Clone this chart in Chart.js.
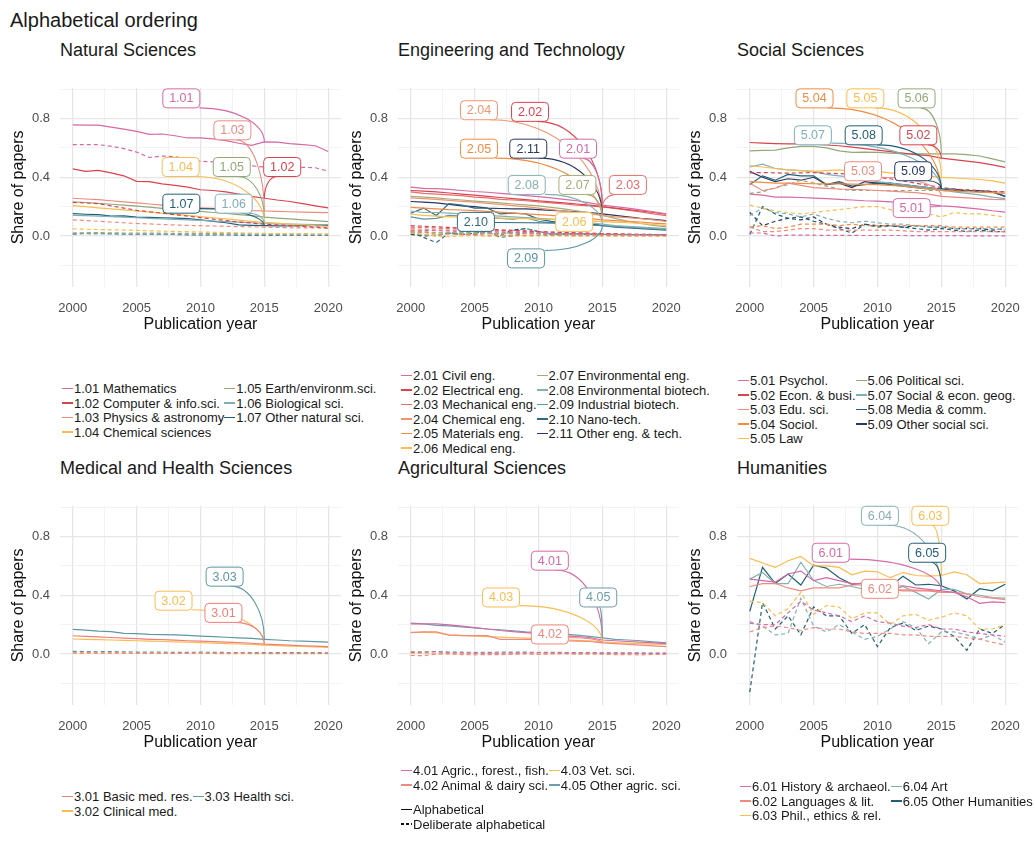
<!DOCTYPE html>
<html>
<head>
<meta charset="utf-8">
<script src="https://cdn.jsdelivr.net/npm/chart.js@4"></script>
<style>
  body { margin: 0; width: 1034px; height: 848px; overflow: hidden; background: #fff;
         font-family: "Liberation Sans", Arial, Helvetica, sans-serif; color: #1a1a1a; }
  .main-title { position: absolute; left: 10px; top: 8px; font-size: 20px; line-height: 24px; }
  .panel-title { position: absolute; font-size: 18px; line-height: 20px; }
  canvas { position: absolute; }
  .legend { position: absolute; display: grid; grid-auto-flow: column; font-size: 13px; line-height: 14.5px; white-space: nowrap; }
  .legend span.key { display: inline-block; width: 11px; height: 1.6px; vertical-align: middle; margin-right: 1px; position: relative; top: -1px; }
  .legend span.key.dash { background: repeating-linear-gradient(90deg, #111 0 3px, transparent 3px 5px) !important; }
</style>
</head>
<body>
<div class="main-title">Alphabetical ordering</div>
<div id="root"></div>
<script>
// ---- data ----
const years = [2000, 2001, 2002, 2003, 2004, 2005, 2006, 2007, 2008, 2009, 2010,
               2011, 2012, 2013, 2014, 2015, 2016, 2017, 2018, 2019, 2020];
const xTicks = [2000, 2002.5, 2005, 2007.5, 2010, 2012.5, 2015, 2017.5, 2020];
const xLabelled = [2000, 2005, 2010, 2015, 2020];
const yTicks = [-0.2, 0, 0.2, 0.4, 0.6, 0.8, 1.0];
const yLabelled = [0, 0.4, 0.8];

// Natural Sciences
const natCodes = ['1.01', '1.02', '1.03', '1.04', '1.05', '1.06', '1.07'];
const natNames = ['Mathematics', 'Computer & info.sci.', 'Physics & astronomy', 'Chemical sciences',
                  'Earth/environm.sci.', 'Biological sci.', 'Other natural sci.'];
const natSolid = [
  [0.757,0.755,0.755,0.742,0.728,0.713,0.692,0.695,0.683,0.668,0.668,0.662,0.650,0.632,0.617,0.641,0.640,0.630,0.622,0.615,0.576],
  [0.457,0.440,0.447,0.430,0.410,0.372,0.370,0.355,0.345,0.333,0.315,0.310,0.300,0.285,0.270,0.257,0.245,0.235,0.220,0.205,0.191],
  [0.257,0.252,0.247,0.240,0.232,0.225,0.218,0.210,0.203,0.197,0.192,0.188,0.183,0.178,0.173,0.170,0.167,0.165,0.163,0.161,0.159],
  [0.207,0.200,0.192,0.185,0.178,0.170,0.163,0.155,0.148,0.140,0.132,0.124,0.116,0.108,0.100,0.093,0.087,0.081,0.076,0.070,0.066],
  [0.232,0.228,0.222,0.216,0.210,0.203,0.196,0.188,0.181,0.174,0.167,0.160,0.153,0.146,0.139,0.128,0.122,0.116,0.110,0.104,0.098],
  [0.140,0.138,0.135,0.132,0.128,0.124,0.120,0.117,0.113,0.110,0.106,0.102,0.098,0.094,0.090,0.085,0.082,0.080,0.079,0.078,0.078],
  [0.152,0.148,0.145,0.135,0.137,0.128,0.126,0.124,0.122,0.118,0.110,0.100,0.090,0.075,0.072,0.070,0.069,0.068,0.070,0.071,0.072]
];
const natDashed = [
  [0.622,0.622,0.622,0.612,0.595,0.572,0.535,0.545,0.540,0.525,0.510,0.505,0.500,0.490,0.478,0.470,0.470,0.470,0.468,0.465,0.441],
  [0.228,0.225,0.220,0.205,0.190,0.175,0.165,0.155,0.145,0.135,0.125,0.115,0.105,0.095,0.088,0.080,0.075,0.070,0.065,0.060,0.055],
  [0.110,0.105,0.100,0.095,0.090,0.085,0.082,0.078,0.075,0.072,0.070,0.068,0.066,0.064,0.062,0.060,0.058,0.056,0.055,0.055,0.052],
  [0.048,0.046,0.044,0.042,0.040,0.038,0.035,0.033,0.031,0.029,0.027,0.025,0.023,0.021,0.019,0.017,0.016,0.015,0.014,0.013,0.012],
  [0.022,0.022,0.021,0.021,0.020,0.020,0.019,0.019,0.018,0.018,0.017,0.017,0.016,0.016,0.015,0.015,0.014,0.014,0.014,0.013,0.013],
  [0.015,0.015,0.014,0.014,0.013,0.013,0.012,0.012,0.012,0.011,0.011,0.011,0.010,0.010,0.010,0.010,0.010,0.009,0.009,0.009,0.009],
  [0.012,0.018,0.020,0.015,0.012,0.010,0.012,0.010,0.010,0.008,0.008,0.007,0.007,0.006,0.006,0.006,0.006,0.005,0.005,0.005,0.005]
];
const natLabelPos = [['1.01', 2008.5, 0.938], ['1.03', 2012.5, 0.72], ['1.02', 2016.4, 0.47], ['1.04', 2008.45, 0.47],
                     ['1.05', 2012.45, 0.47], ['1.07', 2008.5, 0.22], ['1.06', 2012.6, 0.22]];

// Engineering and Technology
const engCodes = ['2.01', '2.02', '2.03', '2.04', '2.05', '2.06', '2.07', '2.08', '2.09', '2.10', '2.11'];
const engNames = ['Civil eng.', 'Electrical eng.', 'Mechanical eng.', 'Chemical eng.', 'Materials eng.', 'Medical eng.',
                  'Environmental eng.', 'Environmental biotech.', 'Industrial biotech.', 'Nano-tech.', 'Other eng. & tech.'];
const engSolid = [
  [0.333,0.325,0.322,0.318,0.310,0.303,0.298,0.290,0.283,0.275,0.268,0.260,0.250,0.240,0.225,0.210,0.200,0.190,0.178,0.165,0.150],
  [0.310,0.305,0.300,0.293,0.285,0.278,0.270,0.262,0.255,0.248,0.240,0.232,0.225,0.218,0.210,0.200,0.190,0.180,0.170,0.160,0.148],
  [0.300,0.290,0.285,0.280,0.275,0.265,0.260,0.250,0.245,0.240,0.232,0.225,0.218,0.210,0.205,0.198,0.188,0.176,0.164,0.150,0.138],
  [0.260,0.255,0.250,0.243,0.236,0.230,0.222,0.215,0.207,0.200,0.190,0.180,0.170,0.160,0.150,0.140,0.130,0.125,0.118,0.110,0.100],
  [0.195,0.190,0.185,0.180,0.177,0.172,0.168,0.162,0.156,0.150,0.145,0.140,0.133,0.125,0.118,0.110,0.105,0.100,0.095,0.088,0.082],
  [0.148,0.140,0.135,0.130,0.130,0.128,0.125,0.122,0.120,0.118,0.115,0.112,0.110,0.107,0.103,0.098,0.094,0.090,0.085,0.078,0.070],
  [0.270,0.265,0.260,0.252,0.245,0.238,0.232,0.225,0.218,0.212,0.205,0.195,0.185,0.172,0.158,0.140,0.120,0.100,0.085,0.072,0.062],
  [0.170,0.160,0.160,0.155,0.150,0.145,0.140,0.135,0.130,0.125,0.120,0.115,0.110,0.100,0.090,0.080,0.070,0.065,0.060,0.055,0.050],
  [0.130,0.115,0.120,0.140,0.135,0.130,0.130,0.120,0.115,0.125,0.100,0.090,0.090,0.085,0.080,0.070,0.065,0.060,0.055,0.050,0.045],
  [0.155,0.190,0.140,0.220,0.210,0.190,0.190,0.150,0.155,0.150,0.115,0.100,0.090,0.080,0.075,0.070,0.060,0.055,0.050,0.045,0.040],
  [0.235,0.230,0.225,0.215,0.205,0.200,0.190,0.187,0.185,0.185,0.180,0.175,0.170,0.165,0.160,0.150,0.140,0.130,0.120,0.113,0.105]
];
const engDashed = [
  [0.040,0.038,0.036,0.034,0.032,0.030,0.028,0.026,0.024,0.022,0.020,0.018,0.016,0.014,0.013,0.012,0.011,0.010,0.009,0.008,0.007],
  [0.070,0.066,0.062,0.058,0.054,0.050,0.046,0.042,0.038,0.034,0.030,0.027,0.024,0.021,0.018,0.016,0.014,0.012,0.011,0.010,0.009],
  [0.060,0.057,0.054,0.050,0.047,0.044,0.040,0.037,0.034,0.031,0.028,0.025,0.022,0.020,0.018,0.016,0.014,0.012,0.011,0.010,0.009],
  [0.050,0.045,0.042,0.040,0.037,0.034,0.031,0.028,0.025,0.023,0.021,0.019,0.017,0.015,0.013,0.012,0.011,0.010,0.009,0.008,0.007],
  [0.030,0.026,0.010,0.012,0.010,0.008,0.006,0.005,0.004,0.004,0.003,0.003,0.003,0.002,0.002,0.002,0.002,0.001,0.001,0.001,0.001],
  [0.020,0.010,0.000,-0.005,0.000,0.002,-0.003,0.000,0.001,-0.002,0.000,0.001,0.000,-0.001,0.000,0.000,-0.001,0.000,0.000,0.000,0.000],
  [0.025,0.024,0.022,0.021,0.020,0.019,0.018,0.017,0.016,0.015,0.014,0.013,0.012,0.011,0.010,0.010,0.009,0.009,0.008,0.008,0.007],
  [0.035,0.030,0.020,0.025,0.022,0.020,0.018,0.015,0.016,0.020,0.018,0.015,0.013,0.012,0.011,0.010,0.010,0.009,0.008,0.008,0.007],
  [0.020,0.010,0.000,0.020,0.030,0.020,0.030,0.000,0.035,0.050,0.030,0.015,0.012,0.015,0.012,0.010,0.010,0.009,0.008,0.008,0.007],
  [0.030,-0.010,-0.045,0.020,0.010,0.020,0.030,-0.010,0.000,0.020,0.015,0.010,0.012,0.010,0.010,0.010,0.008,0.008,0.007,0.007,0.006],
  [0.010,0.000,0.005,0.020,0.012,0.010,0.020,0.010,0.040,0.050,0.030,0.012,0.015,0.014,0.012,0.012,0.010,0.010,0.009,0.009,0.008]
];
const engLabelPos = [['2.04', 2005.34, 0.857], ['2.02', 2009.34, 0.846], ['2.05', 2005.34, 0.595], ['2.11', 2009.2, 0.595],
                     ['2.01', 2013.1, 0.595], ['2.08', 2009.08, 0.348], ['2.07', 2013.05, 0.348], ['2.03', 2017.0, 0.348],
                     ['2.10', 2005.1, 0.096], ['2.06', 2012.8, 0.096], ['2.09', 2009.03, -0.153]];

// Social Sciences
const socCodes = ['5.01', '5.02', '5.03', '5.04', '5.05', '5.06', '5.07', '5.08', '5.09'];
const socNames = ['Psychol.', 'Econ. & busi.', 'Edu. sci.', 'Sociol.', 'Law', 'Political sci.',
                  'Social & econ. geog.', 'Media & comm.', 'Other social sci.'];
const socSolid = [
  [0.285,0.278,0.265,0.265,0.262,0.258,0.255,0.250,0.245,0.240,0.237,0.232,0.228,0.222,0.215,0.205,0.200,0.192,0.183,0.172,0.163],
  [0.637,0.633,0.630,0.628,0.628,0.625,0.620,0.615,0.605,0.595,0.585,0.575,0.565,0.555,0.548,0.530,0.520,0.510,0.500,0.485,0.467],
  [0.360,0.310,0.325,0.360,0.345,0.330,0.325,0.320,0.318,0.315,0.310,0.305,0.300,0.295,0.285,0.270,0.265,0.260,0.255,0.250,0.248],
  [0.370,0.365,0.360,0.360,0.358,0.356,0.355,0.355,0.353,0.352,0.350,0.345,0.340,0.330,0.320,0.310,0.305,0.300,0.298,0.295,0.290],
  [0.480,0.470,0.460,0.450,0.445,0.440,0.445,0.450,0.440,0.435,0.440,0.430,0.425,0.420,0.410,0.400,0.395,0.390,0.385,0.375,0.360],
  [0.580,0.583,0.585,0.600,0.610,0.610,0.600,0.580,0.570,0.572,0.570,0.565,0.560,0.560,0.560,0.560,0.560,0.555,0.545,0.525,0.505],
  [0.470,0.490,0.460,0.450,0.445,0.440,0.420,0.410,0.400,0.385,0.370,0.360,0.350,0.340,0.330,0.315,0.300,0.290,0.280,0.265,0.255],
  [0.350,0.410,0.380,0.420,0.410,0.410,0.350,0.370,0.340,0.350,0.360,0.350,0.340,0.330,0.320,0.320,0.310,0.310,0.300,0.300,0.270],
  [0.440,0.400,0.370,0.390,0.380,0.400,0.350,0.360,0.330,0.370,0.360,0.360,0.350,0.340,0.330,0.320,0.320,0.310,0.310,0.300,0.270]
];
const socDashed = [
  [0.020,0.020,0.000,0.005,0.005,0.005,0.004,0.004,0.004,0.003,0.003,0.003,0.003,0.002,0.002,0.002,0.002,0.001,0.001,0.001,0.000],
  [0.430,0.432,0.430,0.428,0.430,0.432,0.428,0.425,0.420,0.410,0.400,0.390,0.375,0.360,0.345,0.330,0.320,0.315,0.310,0.305,0.300],
  [0.060,0.030,0.030,0.040,0.050,0.050,0.040,0.040,0.040,0.040,0.040,0.040,0.035,0.030,0.030,0.030,0.030,0.030,0.030,0.030,0.030],
  [0.060,0.070,0.050,0.060,0.080,0.080,0.080,0.070,0.080,0.070,0.070,0.070,0.070,0.070,0.070,0.070,0.060,0.060,0.060,0.060,0.060],
  [0.210,0.190,0.170,0.160,0.150,0.160,0.170,0.180,0.190,0.200,0.200,0.180,0.150,0.160,0.150,0.130,0.160,0.150,0.150,0.140,0.130],
  [0.290,0.300,0.330,0.350,0.380,0.360,0.340,0.320,0.310,0.310,0.310,0.310,0.310,0.310,0.310,0.310,0.305,0.305,0.300,0.300,0.300],
  [0.140,0.190,0.160,0.150,0.130,0.150,0.120,0.100,0.090,0.100,0.090,0.080,0.080,0.070,0.060,0.060,0.050,0.050,0.050,0.050,0.040],
  [0.010,0.200,0.150,0.120,0.130,0.100,0.080,0.050,0.020,0.080,0.060,0.070,0.060,0.050,0.040,0.050,0.040,0.030,0.040,0.030,0.030],
  [0.160,0.070,0.100,0.120,0.110,0.130,0.080,0.060,0.050,0.080,0.070,0.070,0.060,0.070,0.060,0.060,0.050,0.050,0.050,0.040,0.050]
];
const socLabelPos = [['5.04', 2005.07, 0.938], ['5.05', 2009.05, 0.938], ['5.06', 2013.06, 0.938], ['5.07', 2004.94, 0.686],
                     ['5.08', 2008.92, 0.686], ['5.02', 2013.2, 0.686], ['5.03', 2008.87, 0.441], ['5.09', 2012.8, 0.441],
                     ['5.01', 2012.68, 0.19]];

// Medical and Health Sciences
const medCodes = ['3.01', '3.02', '3.03'];
const medNames = ['Basic med. res.', 'Clinical med.', 'Health sci.'];
const medSolid = [
  [0.124,0.120,0.116,0.112,0.108,0.104,0.100,0.097,0.094,0.090,0.087,0.084,0.080,0.077,0.073,0.067,0.063,0.060,0.056,0.053,0.050],
  [0.102,0.100,0.097,0.095,0.092,0.090,0.087,0.085,0.082,0.080,0.077,0.074,0.071,0.068,0.065,0.060,0.057,0.054,0.051,0.048,0.045],
  [0.168,0.163,0.155,0.152,0.140,0.138,0.134,0.132,0.130,0.126,0.122,0.118,0.114,0.110,0.106,0.100,0.095,0.090,0.087,0.084,0.080]
];
const medDashed = [
  [0.008,0.008,0.007,0.007,0.007,0.006,0.006,0.006,0.006,0.005,0.005,0.005,0.005,0.005,0.005,0.004,0.004,0.004,0.004,0.004,0.004],
  [0.004,0.004,0.003,0.003,0.003,0.003,0.003,0.003,0.003,0.003,0.003,0.003,0.002,0.002,0.002,0.002,0.002,0.002,0.002,0.002,0.002],
  [0.018,0.016,0.015,0.016,0.014,0.013,0.012,0.012,0.011,0.011,0.012,0.011,0.010,0.010,0.010,0.010,0.009,0.009,0.009,0.009,0.008]
];
const medLabelPos = [['3.03', 2011.89, 0.527], ['3.02', 2007.89, 0.363], ['3.01', 2011.8, 0.28]];

// Agricultural Sciences
const agrCodes = ['4.01', '4.02', '4.03', '4.05'];
const agrNames = ['Agric., forest., fish.', 'Animal & dairy sci.', 'Vet. sci.', 'Other agric. sci.'];
const agrSolid = [
  [0.205,0.205,0.205,0.198,0.190,0.180,0.170,0.160,0.152,0.145,0.138,0.130,0.125,0.118,0.112,0.095,0.090,0.085,0.080,0.075,0.070],
  [0.145,0.150,0.150,0.128,0.125,0.125,0.125,0.100,0.100,0.100,0.100,0.095,0.090,0.088,0.085,0.075,0.070,0.065,0.060,0.055,0.050],
  [0.148,0.147,0.145,0.130,0.127,0.122,0.118,0.115,0.112,0.108,0.104,0.100,0.096,0.093,0.090,0.082,0.078,0.074,0.070,0.067,0.065],
  [0.210,0.205,0.195,0.192,0.185,0.178,0.170,0.165,0.158,0.150,0.145,0.140,0.135,0.128,0.120,0.110,0.100,0.095,0.090,0.083,0.075]
];
const agrDashed = [
  [0.010,0.012,0.015,0.010,0.008,0.006,0.005,0.006,0.007,0.008,0.010,0.009,0.008,0.008,0.007,0.006,0.005,0.005,0.004,0.004,0.004],
  [-0.010,-0.012,0.000,0.002,-0.004,-0.006,-0.004,-0.005,-0.002,0.000,-0.003,0.000,0.002,-0.002,0.000,-0.001,-0.004,-0.005,-0.006,-0.003,-0.002],
  [0.005,0.003,0.000,-0.002,0.000,0.002,0.000,-0.002,0.000,0.002,0.000,0.003,0.002,0.000,0.001,0.000,-0.001,0.000,0.001,0.000,0.000],
  [0.015,0.014,0.016,0.013,0.012,0.010,0.011,0.012,0.013,0.012,0.010,0.011,0.010,0.009,0.009,0.008,0.008,0.007,0.007,0.006,0.006]
];
const agrLabelPos = [['4.01', 2010.89, 0.636], ['4.03', 2007.07, 0.385], ['4.05', 2014.68, 0.385], ['4.02', 2010.89, 0.133]];

// Humanities
const humCodes = ['6.01', '6.02', '6.03', '6.04', '6.05'];
const humNames = ['History & archaeol.', 'Languages & lit.', 'Phil., ethics & rel.', 'Art', 'Other Humanities'];
const humSolid = [
  [0.510,0.500,0.490,0.545,0.565,0.500,0.520,0.500,0.480,0.480,0.480,0.460,0.465,0.450,0.440,0.430,0.420,0.390,0.345,0.355,0.350],
  [0.460,0.480,0.480,0.450,0.430,0.450,0.450,0.450,0.470,0.470,0.460,0.440,0.430,0.430,0.430,0.420,0.420,0.410,0.390,0.380,0.370],
  [0.652,0.620,0.590,0.635,0.665,0.600,0.600,0.590,0.540,0.565,0.560,0.520,0.555,0.535,0.530,0.535,0.560,0.540,0.480,0.485,0.490],
  [0.510,0.555,0.480,0.480,0.625,0.500,0.460,0.475,0.460,0.440,0.430,0.430,0.460,0.420,0.375,0.440,0.440,0.410,0.400,0.385,0.380],
  [0.290,0.590,0.480,0.545,0.470,0.605,0.585,0.520,0.475,0.485,0.460,0.460,0.530,0.470,0.475,0.465,0.430,0.375,0.445,0.430,0.475]
];
const humDashed = [
  [0.210,0.200,0.200,0.280,0.360,0.300,0.280,0.260,0.220,0.260,0.220,0.210,0.190,0.180,0.200,0.170,0.170,0.150,0.140,0.130,0.120],
  [0.150,0.180,0.190,0.180,0.160,0.180,0.170,0.170,0.150,0.140,0.140,0.140,0.130,0.130,0.120,0.120,0.120,0.110,0.100,0.080,0.060],
  [0.360,0.350,0.260,0.310,0.420,0.270,0.330,0.320,0.240,0.280,0.280,0.200,0.260,0.270,0.230,0.250,0.280,0.260,0.170,0.170,0.200],
  [0.220,0.190,0.130,0.140,0.380,0.190,0.150,0.200,0.150,0.100,0.120,0.170,0.220,0.180,0.070,0.150,0.150,0.130,0.100,0.130,0.080],
  [-0.260,0.350,0.170,0.260,0.130,0.320,0.260,0.260,0.140,0.200,0.050,0.180,0.210,0.160,0.190,0.170,0.120,0.025,0.170,0.140,0.200]
];
const humLabelPos = [['6.04', 2010.19, 0.942], ['6.03', 2014.14, 0.942], ['6.01', 2006.34, 0.69], ['6.05', 2013.89, 0.69],
                     ['6.02', 2010.19, 0.444]];

const anchorYear = 2015;

// ---- styles ----
const C = {
  pink: '#d46aa6', red: '#d9434f', salmon: '#ef8a80', salmonOr: '#f1946f', orange: '#f28c42',
  yellow: '#f8bd4f', olive: '#93a878', greyTeal: '#86b0b0', lightTeal: '#7eafba', teal: '#5a96a6',
  darkTeal: '#1f5f75', navy: '#2b3762'
};
const natColors = [C.pink, C.red, C.salmon, C.yellow, C.olive, C.lightTeal, C.darkTeal];
const engColors = [C.pink, C.red, '#e86c6c', C.salmonOr, C.orange, C.yellow, '#a2ae78', C.greyTeal, C.teal, '#2f6a82', C.navy];
const socColors = [C.pink, C.red, C.salmon, C.orange, C.yellow, C.olive, C.lightTeal, C.darkTeal, C.navy];
const medColors = ['#ef7f7c', C.yellow, '#5f97a4'];
const agrColors = [C.pink, C.salmon, C.yellow, '#6f9eab'];
const humColors = [C.pink, C.salmon, C.yellow, C.greyTeal, C.darkTeal];

const canvasLeft = [5, 343, 682];
const canvasTop = [70, 488];
const FONT = '"Liberation Sans", Arial, Helvetica, sans-serif';

const panels = [
  { title: 'Natural Sciences', codes: natCodes, names: natNames, solid: natSolid, dashed: natDashed, colors: natColors,
    labels: natLabelPos, col: 0, row: 0, legend: { left: 62, top: 382, rows: 4 } },
  { title: 'Engineering and Technology', codes: engCodes, names: engNames, solid: engSolid, dashed: engDashed, colors: engColors,
    labels: engLabelPos, col: 1, row: 0, legend: { left: 401, top: 369, rows: 6 } },
  { title: 'Social Sciences', codes: socCodes, names: socNames, solid: socSolid, dashed: socDashed, colors: socColors,
    labels: socLabelPos, col: 2, row: 0, legend: { left: 738, top: 374, rows: 5 } },
  { title: 'Medical and Health Sciences', codes: medCodes, names: medNames, solid: medSolid, dashed: medDashed, colors: medColors,
    labels: medLabelPos, col: 0, row: 1, legend: { left: 62, top: 790, rows: 2 } },
  { title: 'Agricultural Sciences', codes: agrCodes, names: agrNames, solid: agrSolid, dashed: agrDashed, colors: agrColors,
    labels: agrLabelPos, col: 1, row: 1, legend: { left: 401, top: 764, rows: 2 }, linetypes: { left: 401, top: 803 } },
  { title: 'Humanities', codes: humCodes, names: humNames, solid: humSolid, dashed: humDashed, colors: humColors,
    labels: humLabelPos, col: 2, row: 1, legend: { left: 740, top: 780, rows: 3 } }
];

const near = (v, list) => list.some(l => Math.abs(v - l) < 1e-6);

/**
 * Boxed labels with curved leader lines, like ggrepel
 */
function makeLabelPlugin(panel) {
  return {
    id: 'repelLabels',
    afterDatasetsDraw(chart) {
      const { ctx, scales: { x, y } } = chart;
      const w = 37, h = 19;
      const k = years.indexOf(anchorYear);
      ctx.save();
      ctx.font = '12.5px ' + FONT;
      ctx.textAlign = 'center';
      ctx.textBaseline = 'middle';
      panel.labels.forEach(([code, lx, ly]) => {
        const i = panel.codes.indexOf(code);
        const color = panel.colors[i];
        const cx = x.getPixelForValue(lx), cy = y.getPixelForValue(ly);
        const ex = x.getPixelForValue(anchorYear), ey = y.getPixelForValue(panel.solid[i][k]);
        const dx = ex - cx, dy = ey - cy;
        const tx = dx !== 0 ? (w / 2) / Math.abs(dx) : Infinity;
        const ty = dy !== 0 ? (h / 2) / Math.abs(dy) : Infinity;
        const t = Math.min(tx, ty);
        if (t < 1) {
          const sx = cx + dx * t, sy = cy + dy * t;
          ctx.beginPath();
          ctx.moveTo(sx, sy);
          ctx.bezierCurveTo(sx + (ex - sx) * 0.6, sy, ex, sy + (ey - sy) * 0.5, ex, ey);
          ctx.strokeStyle = color;
          ctx.lineWidth = 1.1;
          ctx.stroke();
        }
        ctx.beginPath();
        ctx.roundRect(cx - w / 2, cy - h / 2, w, h, 4);
        ctx.fillStyle = '#fff';
        ctx.fill();
        ctx.strokeStyle = color;
        ctx.lineWidth = 1;
        ctx.stroke();
        ctx.fillStyle = color;
        ctx.fillText(code, cx, cy + 0.5);
      });
      ctx.restore();
    }
  };
}

function buildChart(panel) {
  const canvas = document.createElement('canvas');
  canvas.width = 352;
  canvas.height = 272;
  canvas.style.left = canvasLeft[panel.col] + 'px';
  canvas.style.top = canvasTop[panel.row] + 'px';
  document.getElementById('root').appendChild(canvas);

  const datasets = [];
  panel.codes.forEach((code, i) => {
    datasets.push({
      label: code + ' ' + panel.names[i],
      data: years.map((yr, j) => ({ x: yr, y: panel.solid[i][j] })),
      borderColor: panel.colors[i], borderWidth: 1.2
    });
    datasets.push({
      label: code + ' ' + panel.names[i] + ' (deliberate)',
      data: years.map((yr, j) => ({ x: yr, y: panel.dashed[i][j] })),
      borderColor: panel.colors[i], borderWidth: 1.2, borderDash: [4, 3]
    });
  });

  const gridColor = ctx => ctx.tick && (near(ctx.tick.value, xLabelled) || near(ctx.tick.value, yLabelled)) ? '#e6e6e6' : '#eeeeee';
  const gridWidth = ctx => ctx.tick && (near(ctx.tick.value, xLabelled) || near(ctx.tick.value, yLabelled)) ? 1.3 : 0.7;

  new Chart(canvas, {
    type: 'line',
    data: { datasets },
    options: {
      responsive: false,
      animation: false,
      layout: { padding: { top: 10, right: 8, left: 0, bottom: 0 } },
      elements: { point: { radius: 0 }, line: { tension: 0 } },
      plugins: { legend: { display: false }, tooltip: { enabled: false } },
      scales: {
        x: {
          type: 'linear', min: 1999, max: 2021,
          afterBuildTicks: s => { s.ticks = xTicks.map(v => ({ value: v })); },
          afterFit: s => { s.height = 55; },
          ticks: {
            autoSkip: false, maxRotation: 0, padding: 14, color: '#4d4d4d',
            font: { family: FONT, size: 13 },
            callback: v => near(v, xLabelled) ? String(v) : ''
          },
          grid: { drawTicks: false, color: gridColor, lineWidth: gridWidth },
          border: { display: false },
          title: { display: true, text: 'Publication year', color: '#111', font: { family: FONT, size: 16 }, padding: { top: 0, bottom: 8 } }
        },
        y: {
          min: -0.348, max: 1.01,
          afterBuildTicks: s => { s.ticks = yTicks.map(v => ({ value: v })); },
          afterFit: s => { s.width = 55; },
          ticks: {
            autoSkip: false, padding: 10, color: '#4d4d4d',
            font: { family: FONT, size: 13 },
            callback: v => near(v, yLabelled) ? v.toFixed(1) : ''
          },
          grid: { drawTicks: false, color: gridColor, lineWidth: gridWidth },
          border: { display: false },
          title: { display: true, text: 'Share of papers', color: '#111', font: { family: FONT, size: 16 }, padding: { top: 4, bottom: 0 } }
        }
      }
    },
    plugins: [makeLabelPlugin(panel)]
  });
}

function buildTitle(panel) {
  const el = document.createElement('div');
  el.className = 'panel-title';
  el.textContent = panel.title;
  el.style.left = (canvasLeft[panel.col] + 55) + 'px';
  el.style.top = (canvasTop[panel.row] - 30) + 'px';
  document.getElementById('root').appendChild(el);
}

function buildLegend(panel) {
  const lg = document.createElement('div');
  lg.className = 'legend';
  lg.style.left = panel.legend.left + 'px';
  lg.style.top = panel.legend.top + 'px';
  lg.style.gridTemplateRows = `repeat(${panel.legend.rows}, 14.5px)`;
  lg.innerHTML = panel.codes.map((code, i) =>
    `<div><span class="key" style="background:${panel.colors[i]}"></span>${code} ${panel.names[i]}</div>`
  ).join('');
  document.getElementById('root').appendChild(lg);

  if (panel.linetypes) {
    const lt = document.createElement('div');
    lt.className = 'legend';
    lt.style.left = panel.linetypes.left + 'px';
    lt.style.top = panel.linetypes.top + 'px';
    lt.style.gridTemplateRows = 'repeat(2, 14.5px)';
    lt.innerHTML = `<div><span class="key" style="background:#111"></span>Alphabetical</div>` +
                   `<div><span class="key dash"></span>Deliberate alphabetical</div>`;
    document.getElementById('root').appendChild(lt);
  }
}

panels.forEach(p => {
  buildTitle(p);
  buildChart(p);
  buildLegend(p);
});
</script>
</body>
</html>
